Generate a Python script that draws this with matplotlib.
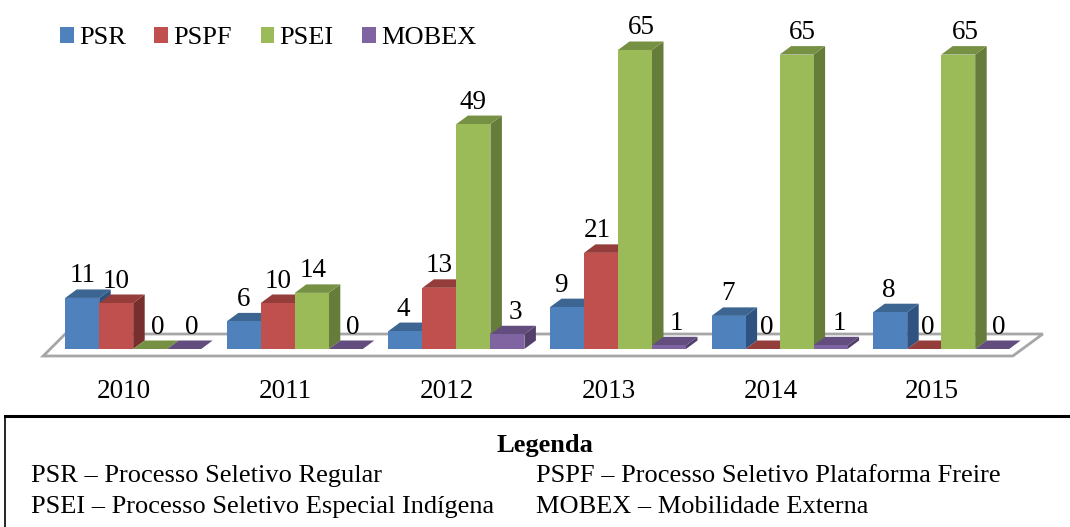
import matplotlib
matplotlib.use('Agg')
import matplotlib.pyplot as plt
from matplotlib.lines import Line2D
from matplotlib.patches import Patch, Polygon

plt.rcParams['font.family'] = ['Liberation Serif', 'DejaVu Serif']

years = ['2010', '2011', '2012', '2013', '2014', '2015']
series_names = ['PSR', 'PSPF', 'PSEI', 'MOBEX']

# values printed over the bars
psr_labels = [11, 6, 4, 9, 7, 8]
pspf_labels = [10, 10, 13, 21, 0, 0]
psei_labels = [0, 14, 49, 65, 65, 65]
mobex_labels = [0, 0, 3, 1, 1, 0]

# bar heights as drawn in the picture (they do not always agree with the labels)
psr_heights = [11.1, 6.0, 3.9, 9.1, 7.2, 8.0]
pspf_heights = [10.0, 10.0, 13.3, 20.9, 0, 0]
psei_heights = [0, 12.2, 48.9, 65.0, 64.0, 64.0]
mobex_heights = [0, 0, 3.2, 0.8, 0.8, 0]

legend_title = 'Legenda'
legend_notes = [
    'PSR – Processo Seletivo Regular',
    'PSPF – Processo Seletivo Plataforma Freire',
    'PSEI – Processo Seletivo Especial Indígena',
    'MOBEX – Mobilidade Externa',
]

W, H = 1070, 527
PX_X = 161.6      # pixels per category
PX_Y = 4.6        # pixels per unit
BASE = 349        # pixel row of the value 0
FLOOR = 356

front = ['#4f81bd', '#c0504d', '#9bbb59', '#8064a2']
top = ['#3c6591', '#943d3b', '#779144', '#634d7e']
side = ['#2f5280', '#772f2d', '#667c3a', '#523f6a']

# sideways shift of each data label, pixels
label_dx = [
    [0, 0, 8, 8],
    [0, 0, 1, 7],
    [-2, 0, 0, 8],
    [-6, -4, 6, 7],
    [-1, 4, 6, 9],
    [-1, 4, 7, 7],
]

fig = plt.figure(figsize=(W / 100, H / 100), dpi=100)
ax = fig.add_axes([43.2 / W, (H - FLOOR) / H, 969.6 / W, FLOOR / H])
ax.set_xlim(0, 6)
ax.set_ylim((BASE - FLOOR) / PX_Y, BASE / PX_Y)
for s in ax.spines.values():
    s.set_visible(False)
ax.set_yticks([])
ax.set_xticks([i + 0.5 for i in range(len(years))])
ax.set_xticklabels(years, fontsize=19.5)
ax.tick_params(axis='x', length=0, pad=16.5)

# floor of the 3d chart
floor_front = (BASE - FLOOR) / PX_Y
floor_back = (BASE - 334) / PX_Y
ax.add_patch(Polygon([(0, floor_front), (6, floor_front), (6 + 30 / PX_X, floor_back), (22 / PX_X, floor_back)],
                     closed=True, facecolor='white', edgecolor='#a6a6a6', lw=2.0, clip_on=False, zorder=1))

bar_w = 34 / PX_X
start = 22 / PX_X
dx = 11.5 / PX_X
dy = 8.5 / PX_Y

heights = [psr_heights, pspf_heights, psei_heights, mobex_heights]
labels = [psr_labels, pspf_labels, psei_labels, mobex_labels]

z = 2
for i in range(len(years)):
    for j in range(len(series_names)):
        h = heights[j][i]
        x0 = i + start + j * bar_w
        x1 = x0 + bar_w
        # side, top, then front; the next bar covers the side of this one
        ax.add_patch(Polygon([(x1, 0), (x1 + dx, dy), (x1 + dx, h + dy), (x1, h)],
                             facecolor=side[j], lw=0, clip_on=False, zorder=z))
        ax.add_patch(Polygon([(x0, h), (x1, h), (x1 + dx, h + dy), (x0 + dx, h + dy)],
                             facecolor=top[j], lw=0, clip_on=False, zorder=z))
        if h > 0:
            ax.bar(x0, h, width=bar_w, align='edge', color=front[j], lw=0, clip_on=False, zorder=z)
        ax.annotate(str(labels[j][i]), xy=(x0 + bar_w / 2, h), xytext=(label_dx[i][j], 22),
                    textcoords='offset pixels', ha='center', va='center', fontsize=19.5,
                    color='black', zorder=50, annotation_clip=False)
        z += 1

handles = [Patch(facecolor=c, lw=0) for c in front]
ax.legend(handles, series_names, loc='upper left', bbox_to_anchor=(60 / W, 1 - 27 / H),
          bbox_transform=fig.transFigure, ncols=4, frameon=False, fontsize=19,
          handlelength=0.53, handleheight=0.53, handletextpad=0.18, columnspacing=1.09,
          borderpad=0, borderaxespad=0)

# boxed key below the chart
fig.add_artist(Line2D([5 / W, 1], [1 - 415.5 / H, 1 - 415.5 / H], color='black', lw=2.2))
fig.add_artist(Line2D([5 / W, 5 / W], [0, 1 - 415.5 / H], color='black', lw=1.2))
fig.text(545 / W, 1 - 451.7 / H, legend_title, ha='center', va='baseline', fontsize=19, fontweight='bold')
fig.text(31 / W, 1 - 481.7 / H, legend_notes[0], ha='left', va='baseline', fontsize=19)
fig.text(536 / W, 1 - 481.7 / H, legend_notes[1], ha='left', va='baseline', fontsize=19)
fig.text(31 / W, 1 - 513 / H, legend_notes[2], ha='left', va='baseline', fontsize=19)
fig.text(536 / W, 1 - 513 / H, legend_notes[3], ha='left', va='baseline', fontsize=19)

fig.savefig('out.png', dpi=100)
